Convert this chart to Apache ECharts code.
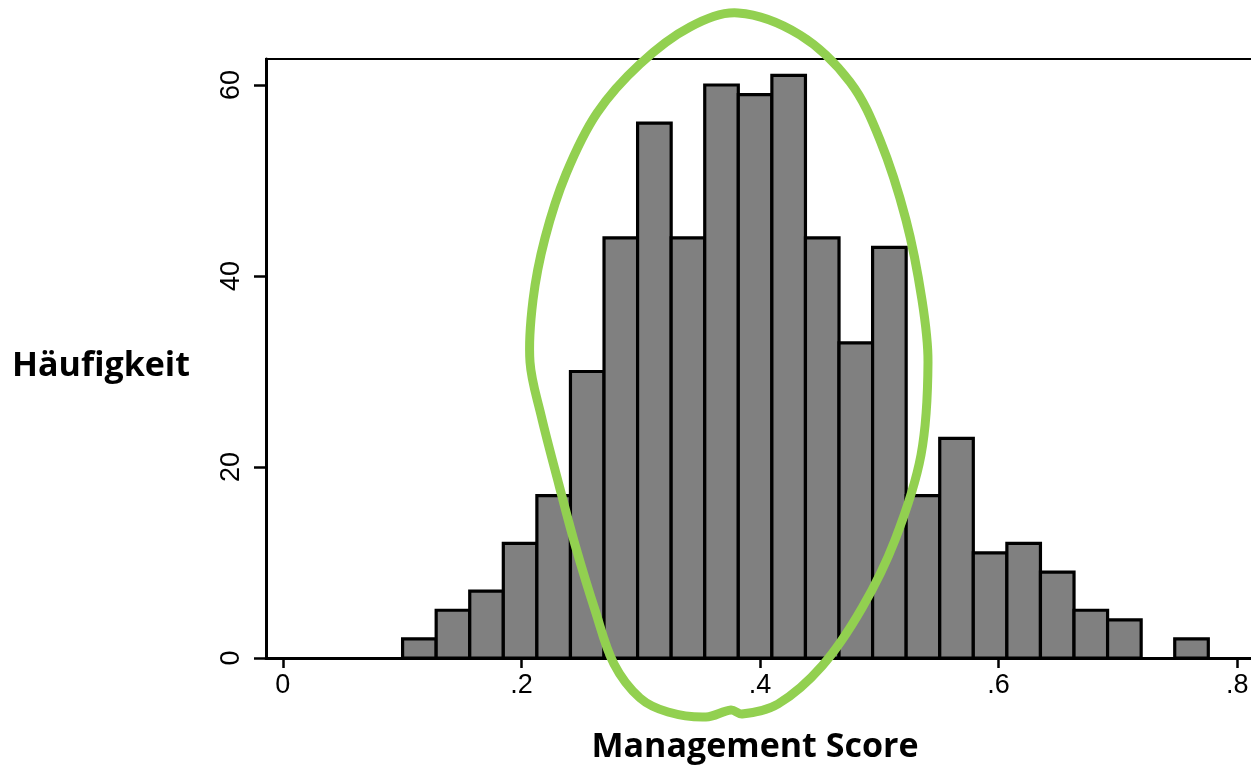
<!DOCTYPE html>
<html>
<head>
<meta charset="utf-8">
<title>Management Score</title>
<script src="https://cdn.jsdelivr.net/npm/echarts@6/dist/echarts.min.js"></script>
<style>
  html, body { margin: 0; padding: 0; background: #fff; overflow: hidden; }
  #chart { width: 1251px; height: 771px; }
</style>
</head>
<body>
<div id="chart"></div>
<script>
// histogram bins (Stata style: 24 bins starting at the minimum)
const binStart = 0.1004;
const binWidth = 0.02814;
const counts = [2, 5, 7, 12, 17, 30, 44, 56, 44, 60, 59, 61, 44, 33, 43, 17, 23, 11, 12, 9, 5, 4, 0, 2];

// axis ticks
const xTickValues = [0, 0.2, 0.4, 0.6, 0.8];
const xTickLabels = ['0', '.2', '.4', '.6', '.8'];
const yTickValues = [0, 20, 40, 60];

const xName = 'Management Score';
const yName = 'Häufigkeit';

// hand drawn green loop (annotation, pixel coordinates)
const loopPoints = [
  [738, 13], [800, 35], [850, 82], [880, 140], [906, 220], [922, 300], [928, 362],
  [921, 455], [895, 540], [862, 608], [822, 666], [778, 704], [742, 714], [731, 710],
  [706, 717], [668, 712], [640, 698], [614, 664], [595, 610], [576, 548], [559, 485],
  [541, 415], [530, 362], [533, 300], [545, 238], [566, 174], [597, 113], [640, 64], [690, 27]
];

const chart = echarts.init(document.getElementById('chart'));

const option = {
  backgroundColor: '#ffffff',
  animation: false,
  grid: {
    left: 266,
    top: 59,
    width: 1015,
    height: 599,
    outerBoundsMode: 'none',
    containLabel: false,
    show: true,
    borderColor: '#000',
    borderWidth: 2,
    backgroundColor: '#fff'
  },
  xAxis: {
    type: 'value',
    min: -0.0141,
    max: -0.0141 + 1015 / 1193,
    name: xName,
    nameLocation: 'middle',
    nameGap: 72,
    nameTextStyle: {
      fontFamily: 'Open Sans',
      fontWeight: 'bold',
      fontSize: 34,
      color: '#000',
      padding: [0, 37, 0, 0]
    },
    splitLine: { show: false },
    axisLine: { show: true, onZero: false, lineStyle: { color: '#000', width: 3 } },
    axisTick: { show: true, length: 10, customValues: xTickValues, lineStyle: { color: '#000', width: 2.5 } },
    axisLabel: {
      customValues: xTickValues,
      margin: 14,
      fontFamily: 'Liberation Sans',
      fontSize: 27,
      color: '#000',
      formatter: function (v) {
        const i = xTickValues.findIndex(t => Math.abs(t - v) < 1e-9);
        return i >= 0 ? xTickLabels[i] : '';
      }
    }
  },
  yAxis: {
    type: 'value',
    min: 0,
    max: 62.72,
    splitLine: { show: false },
    axisLine: { show: true, onZero: false, lineStyle: { color: '#000', width: 3 } },
    axisTick: { show: true, length: 12, customValues: yTickValues, lineStyle: { color: '#000', width: 2.5 } },
    axisLabel: {
      customValues: yTickValues,
      rotate: 90,
      margin: 21,
      fontFamily: 'Liberation Sans',
      fontSize: 27,
      color: '#000'
    }
  },
  series: [{
    type: 'custom',
    name: yName,
    data: counts.map((c, i) => [i, c]),
    renderItem: function (params, api) {
      const i = api.value(0);
      const c = api.value(1);
      if (!c) return null;
      const x0 = binStart + i * binWidth;
      const p0 = api.coord([x0, 0]);
      const p1 = api.coord([x0 + binWidth, c]);
      return {
        type: 'rect',
        shape: { x: p0[0], y: p1[1], width: p1[0] - p0[0], height: p0[1] - p1[1] },
        style: { fill: '#808080', stroke: '#000', lineWidth: 3.2 }
      };
    }
  }],
  graphic: [{
    // y axis title, horizontal, left of the tick labels
    type: 'text',
    x: 190,
    y: 366,
    style: {
      text: yName,
      fontFamily: 'Open Sans',
      fontWeight: 'bold',
      fontSize: 34,
      fill: '#000',
      align: 'right',
      verticalAlign: 'middle'
    }
  }, {
    type: 'polygon',
    z: 100,
    silent: true,
    shape: { points: loopPoints, smooth: 0.35 },
    style: { fill: null, stroke: '#92d050', lineWidth: 9 }
  }]
};

chart.setOption(option);
</script>
</body>
</html>
